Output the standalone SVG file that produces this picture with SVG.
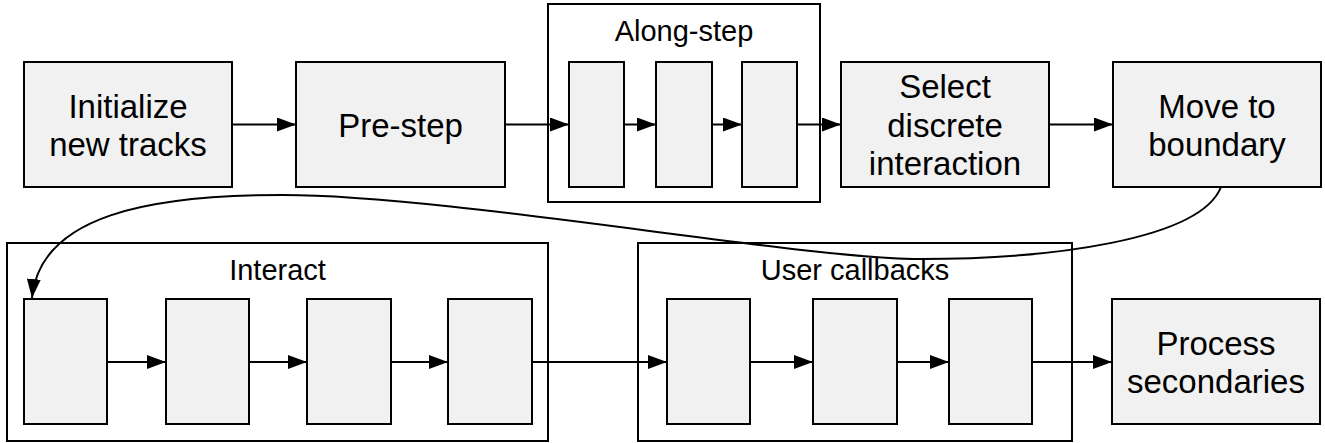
<svg xmlns="http://www.w3.org/2000/svg" width="1325" height="443" viewBox="0 0 1325 443">
  <style>
    .box { fill: #f1f1f1; stroke: #000; stroke-width: 2; }
    .grp { fill: none; stroke: #000; stroke-width: 2; }
    .lbl { font-family: "Liberation Sans", Arial, sans-serif; font-size: 33px; fill: #000; text-anchor: middle; }
    .glbl { font-family: "Liberation Sans", Arial, sans-serif; font-size: 29px; fill: #000; text-anchor: middle; }
    .edge { fill: none; stroke: #000; stroke-width: 2; marker-end: url(#arrow); }
  </style>
  <defs>
    <marker id="arrow" viewBox="0 0 19 14" refX="19" refY="7" markerWidth="19" markerHeight="14" markerUnits="userSpaceOnUse" orient="auto">
      <path d="M0,0 L19,7 L0,14 z" fill="#000"/>
    </marker>
  </defs>

  <g id="init">
    <rect class="box" x="24" y="62" width="208" height="125"/>
    <text class="lbl" x="128" y="118">Initialize</text>
    <text class="lbl" x="128" y="156">new tracks</text>
  </g>
  <g id="prestep">
    <rect class="box" x="296" y="62" width="209" height="125"/>
    <text class="lbl" x="400.5" y="137">Pre-step</text>
  </g>
  <g id="alongstep">
    <rect class="grp" x="548" y="4" width="272" height="198"/>
    <text class="glbl" x="684" y="41">Along-step</text>
    <rect id="along1" class="box" x="569" y="62" width="55" height="125"/>
    <rect id="along2" class="box" x="656" y="62" width="56" height="125"/>
    <rect id="along3" class="box" x="742" y="62" width="55" height="125"/>
  </g>
  <g id="select">
    <rect class="box" x="841" y="62" width="208" height="125"/>
    <text class="lbl" x="945" y="98">Select</text>
    <text class="lbl" x="945" y="137">discrete</text>
    <text class="lbl" x="945" y="175">interaction</text>
  </g>
  <g id="move">
    <rect class="box" x="1113" y="62" width="208" height="125"/>
    <text class="lbl" x="1217" y="118">Move to</text>
    <text class="lbl" x="1217" y="156">boundary</text>
  </g>
  <g id="interact">
    <rect class="grp" x="7" y="243" width="541" height="198"/>
    <text class="glbl" x="277.5" y="280">Interact</text>
    <rect id="int1" class="box" x="24" y="299" width="83" height="125"/>
    <rect id="int2" class="box" x="166" y="299" width="83" height="125"/>
    <rect id="int3" class="box" x="307" y="299" width="84" height="125"/>
    <rect id="int4" class="box" x="448" y="299" width="84" height="125"/>
  </g>
  <g id="usercallbacks">
    <rect class="grp" x="638" y="243" width="434" height="198"/>
    <text class="glbl" x="855" y="280">User callbacks</text>
    <rect id="user1" class="box" x="667" y="299" width="83" height="125"/>
    <rect id="user2" class="box" x="813" y="299" width="84" height="125"/>
    <rect id="user3" class="box" x="949" y="299" width="83" height="125"/>
  </g>
  <g id="process">
    <rect class="box" x="1112" y="299" width="208" height="125"/>
    <text class="lbl" x="1216" y="355">Process</text>
    <text class="lbl" x="1216" y="393">secondaries</text>
  </g>

  <g id="connectors">
    <line class="edge" x1="232" y1="124.5" x2="296" y2="124.5"/>
    <line class="edge" x1="505" y1="124.5" x2="569" y2="124.5"/>
    <line class="edge" x1="624" y1="124.5" x2="656" y2="124.5"/>
    <line class="edge" x1="712" y1="124.5" x2="742" y2="124.5"/>
    <line class="edge" x1="797" y1="124.5" x2="841" y2="124.5"/>
    <line class="edge" x1="1049" y1="124.5" x2="1113" y2="124.5"/>
    <path class="edge" d="M1221,187 C1200,240 1050,259 920,259 C800,259 450,195 283,195 C150,195 40,215 32,298"/>
    <line class="edge" x1="107" y1="362" x2="166" y2="362"/>
    <line class="edge" x1="249" y1="362" x2="307" y2="362"/>
    <line class="edge" x1="391" y1="362" x2="448" y2="362"/>
    <line class="edge" x1="532" y1="362" x2="667" y2="362"/>
    <line class="edge" x1="750" y1="362" x2="813" y2="362"/>
    <line class="edge" x1="897" y1="362" x2="949" y2="362"/>
    <line class="edge" x1="1032" y1="362" x2="1112" y2="362"/>
  </g>
</svg>
